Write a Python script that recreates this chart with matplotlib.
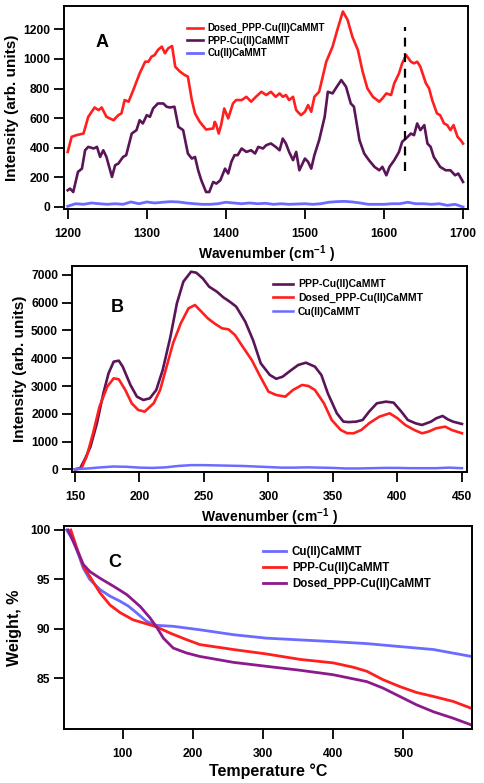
import matplotlib
matplotlib.use("Agg")
import matplotlib.pyplot as plt

plt.rcParams['font.family'] = ['Liberation Sans', 'DejaVu Sans']
plt.rcParams['font.weight'] = 'bold'
plt.rcParams['mathtext.fontset'] = 'custom'
plt.rcParams['mathtext.rm'] = 'Liberation Sans:bold'
plt.rcParams['mathtext.bf'] = 'Liberation Sans:bold'
plt.rcParams['mathtext.default'] = 'bf'

RED = '#ff1f1f'
DARK_PURPLE = '#5a1458'
BLUE = '#6b6bff'
PURPLE_C = '#8c1a8c'

# ---- Panel A data (Raman 1200-1700 cm-1) ----
a_red_x = [1200, 1205, 1211, 1220, 1226, 1234, 1239, 1243, 1249, 1258, 1264, 1268, 1272, 1277,
           1283, 1291, 1298, 1302, 1306, 1310, 1314, 1319, 1323, 1327, 1332, 1336, 1342, 1348,
           1352, 1357, 1361, 1367, 1375, 1384, 1386, 1388, 1391, 1394, 1398, 1403, 1409, 1413,
           1420, 1426, 1432, 1438, 1445, 1451, 1457, 1463, 1468, 1472, 1476, 1480, 1485, 1489,
           1495, 1500, 1504, 1508, 1512, 1518, 1523, 1527, 1535, 1541, 1548, 1554, 1560, 1567,
           1573, 1579, 1586, 1594, 1598, 1603, 1609, 1613, 1619, 1623, 1628, 1634, 1638, 1642,
           1646, 1653, 1657, 1661, 1667, 1671, 1676, 1680, 1684, 1688, 1693, 1697, 1700]
a_red_y = [372, 474, 485, 496, 609, 672, 654, 672, 609, 586, 620, 632, 722, 711,
           790, 902, 981, 981, 1015, 1026, 1060, 1083, 1038, 1071, 1087, 947, 914, 891,
           880, 722, 632, 575, 523, 530, 575, 553, 496, 553, 665, 598, 699, 722,
           722, 744, 711, 744, 778, 756, 778, 744, 767, 744, 756, 722, 744, 654,
           620, 643, 688, 643, 744, 778, 891, 981, 1083, 1196, 1320, 1263, 1150, 1060,
           914, 801, 744, 711, 733, 767, 756, 835, 902, 970, 1026, 981, 970, 981,
           947, 835, 801, 722, 632, 620, 564, 553, 519, 553, 474, 451, 428]

a_pur_x = [1200, 1203, 1207, 1213, 1218, 1222, 1226, 1233, 1237, 1241, 1245, 1249, 1256, 1260,
           1264, 1270, 1274, 1281, 1287, 1291, 1295, 1300, 1304, 1308, 1314, 1321, 1325, 1329,
           1335, 1340, 1346, 1352, 1357, 1361, 1365, 1369, 1375, 1379, 1384, 1388, 1393, 1399,
           1403, 1407, 1411, 1415, 1420, 1426, 1432, 1437, 1441, 1447, 1451, 1457, 1463, 1468,
           1472, 1476, 1480, 1485, 1489, 1493, 1500, 1504, 1508, 1512, 1518, 1525, 1529, 1535,
           1539, 1546, 1552, 1558, 1562, 1569, 1575, 1581, 1588, 1594, 1598, 1603, 1607, 1613,
           1619, 1623, 1630, 1634, 1638, 1642, 1646, 1651, 1655, 1659, 1663, 1667, 1671, 1678,
           1684, 1690, 1694, 1700]
a_pur_y = [113, 124, 101, 237, 259, 383, 406, 395, 406, 338, 383, 338, 203, 282,
           293, 338, 350, 496, 519, 586, 564, 620, 609, 665, 699, 699, 677, 672,
           677, 541, 519, 361, 327, 338, 248, 180, 101, 101, 169, 158, 180, 259,
           226, 305, 350, 350, 395, 372, 383, 361, 406, 395, 417, 429, 406, 383,
           462, 428, 372, 316, 372, 248, 327, 305, 259, 350, 451, 609, 778, 767,
           801, 857, 812, 699, 677, 451, 361, 316, 271, 248, 271, 214, 271, 316,
           372, 440, 474, 496, 485, 564, 519, 553, 428, 406, 338, 305, 271, 248,
           248, 214, 226, 169]

a_blue_x = [1200, 1210, 1220, 1230, 1240, 1250, 1260, 1270, 1280, 1290, 1300, 1310, 1320, 1330,
            1340, 1350, 1360, 1370, 1380, 1390, 1400, 1410, 1420, 1430, 1440, 1450, 1460, 1470,
            1480, 1490, 1500, 1510, 1520, 1530, 1540, 1550, 1560, 1570, 1580, 1590, 1600, 1610,
            1620, 1630, 1640, 1650, 1660, 1670, 1680, 1690, 1700]
a_blue_y = [5, 22, 18, 27, 22, 18, 22, 18, 34, 22, 34, 27, 32, 36,
            34, 27, 22, 18, 18, 22, 32, 27, 22, 27, 22, 25, 18, 22,
            18, 20, 22, 18, 22, 32, 36, 38, 34, 27, 18, 18, 18, 22,
            22, 32, 22, 22, 18, 22, 11, 18, 0]

dash_x = 1627
dash_y = [240, 1215]

# ---- Panel B data (Raman 150-450 cm-1) ----
b_pur_x = [150, 154, 158, 162, 167, 172, 176, 180, 184, 187, 193, 198, 203, 208, 213, 218,
           224, 229, 234, 240, 244, 249, 254, 260, 265, 270, 275, 282, 288, 294, 301, 306,
           311, 316, 323, 329, 336, 341, 346, 353, 358, 362, 368, 373, 378, 384, 391, 397,
           403, 408, 414, 419, 426, 430, 435, 439, 443, 450]
b_pur_y = [0, 36, 396, 816, 1657, 2737, 3457, 3877, 3913, 3697, 3037, 2617, 2497, 2557, 2857, 3577,
           4777, 5978, 6758, 7118, 7082, 6878, 6578, 6398, 6194, 6038, 5858, 5318, 4658, 3818, 3400, 3260,
           3337, 3517, 3757, 3841, 3697, 3397, 2737, 2017, 1720, 1700, 1717, 1777, 2077, 2377, 2437, 2401,
           2077, 1777, 1657, 1597, 1717, 1837, 1921, 1800, 1717, 1633]

b_red_x = [150, 155, 159, 164, 169, 175, 180, 184, 189, 194, 199, 204, 211, 216, 221, 226,
           232, 238, 243, 248, 253, 258, 264, 269, 274, 280, 287, 293, 300, 306, 313, 319,
           326, 331, 336, 343, 349, 356, 361, 366, 372, 378, 386, 394, 400, 406, 413, 419,
           424, 430, 437, 442, 450]
b_red_y = [0, 36, 456, 1297, 2257, 2977, 3277, 3241, 2857, 2377, 2137, 2077, 2377, 2857, 3697, 4538,
           5258, 5798, 5918, 5678, 5438, 5258, 5078, 5042, 4838, 4418, 3938, 3397, 2797, 2677, 2617, 2857,
           3037, 3001, 2857, 2377, 1777, 1417, 1300, 1297, 1417, 1657, 1897, 2017, 1837, 1597, 1417, 1297,
           1357, 1477, 1537, 1417, 1297]

b_blue_x = [150, 160, 170, 180, 190, 200, 210, 220, 230, 240, 250, 260, 270, 280, 290, 300,
            310, 320, 330, 340, 350, 360, 370, 380, 390, 400, 410, 420, 430, 440, 450]
b_blue_y = [0, 30, 70, 100, 90, 60, 50, 70, 120, 150, 150, 140, 130, 120, 100, 80,
            60, 60, 70, 60, 50, 30, 30, 40, 50, 50, 40, 40, 40, 60, 40]

# ---- Panel C data (TGA) ----
c_blue_x = [20, 30, 44, 53, 68, 82, 96, 108, 120, 134, 148, 172, 210, 258, 305, 400, 448, 495, 543, 597]
c_blue_y = [100, 98.9, 96.1, 95.0, 93.95, 93.3, 92.8, 92.3, 91.6, 90.75, 90.35, 90.25, 89.9, 89.4,
            89.05, 88.7, 88.5, 88.2, 87.9, 87.2]

c_red_x = [26, 34, 44, 53, 68, 82, 96, 115, 134, 148, 168, 191, 210, 258, 305, 353, 400, 429,
           448, 471, 495, 519, 543, 571, 597]
c_red_y = [100, 98.3, 96.3, 95.3, 93.6, 92.4, 91.65, 90.9, 90.5, 90.2, 89.55, 88.9, 88.4, 87.9,
           87.45, 86.9, 86.55, 86.1, 85.7, 84.85, 84.15, 83.55, 83.15, 82.65, 81.95]

c_pur_x = [22, 34, 44, 53, 68, 87, 106, 125, 139, 149, 158, 172, 191, 210, 258, 305, 353, 400,
           448, 471, 495, 519, 543, 571, 597]
c_pur_y = [100, 98.1, 96.5, 95.8, 95.1, 94.3, 93.45, 92.25, 91.1, 90.1, 89.05, 88.05, 87.55, 87.2,
           86.6, 86.2, 85.8, 85.35, 84.65, 84.0, 83.15, 82.3, 81.6, 80.95, 80.27]

fig = plt.figure(figsize=(4.84, 7.83), dpi=100)

def style(ax):
    for s in ax.spines.values():
        s.set_linewidth(1.4)
    ax.tick_params(direction='out', length=7, width=1.3, labelsize=8.7, pad=3)
    ax.tick_params(axis='x', pad=7)
    for lab in ax.get_xticklabels() + ax.get_yticklabels():
        lab.set_fontweight('bold')

# Panel A
axA = fig.add_axes([0.1322, 0.7331, 0.8348, 0.2592])
axA.plot(a_red_x, a_red_y, color=RED, lw=1.9, label='Dosed_PPP-Cu(II)CaMMT')
axA.plot(a_pur_x, a_pur_y, color=DARK_PURPLE, lw=1.9, label='PPP-Cu(II)CaMMT')
axA.plot(a_blue_x, a_blue_y, color=BLUE, lw=2.0, label='Cu(II)CaMMT')
axA.plot([dash_x, dash_x], dash_y, color='black', lw=1.6, ls=(0, (4, 3)))
axA.set_xlim(1195.3, 1706.3)
axA.set_ylim(-13.5, 1357)
axA.set_xticks([1200, 1300, 1400, 1500, 1600, 1700])
axA.set_yticks([0, 200, 400, 600, 800, 1000, 1200])
axA.set_xlabel('Wavenumber (cm$^{-1}$ )', fontsize=10, fontweight='bold', labelpad=2)
axA.set_ylabel('Intensity (arb. units)', fontsize=11, fontweight='bold', labelpad=3)
axA.text(0.095, 0.82, 'A', transform=axA.transAxes, fontsize=13, fontweight='bold',
         ha='center', va='center')
axA.legend(loc='upper left', bbox_to_anchor=(0.304, 0.915), frameon=False,
           handlelength=1.65, handletextpad=0.5, labelspacing=0.25, borderpad=0,
           borderaxespad=0, prop={'weight': 'bold', 'size': 7})
style(axA)

# Panel B
axB = fig.add_axes([0.1488, 0.3972, 0.8161, 0.2631])
axB.plot(b_pur_x, b_pur_y, color=DARK_PURPLE, lw=1.9, label='PPP-Cu(II)CaMMT')
axB.plot(b_red_x, b_red_y, color=RED, lw=1.9, label='Dosed_PPP-Cu(II)CaMMT')
axB.plot(b_blue_x, b_blue_y, color=BLUE, lw=1.8, label='Cu(II)CaMMT')
axB.set_xlim(147.7, 453.9)
axB.set_ylim(-97, 7324)
axB.set_xticks([150, 200, 250, 300, 350, 400, 450])
axB.set_yticks(range(0, 7001, 1000))
axB.set_xlabel('Wavenumber (cm$^{-1}$ )', fontsize=10, fontweight='bold', labelpad=2)
axB.set_ylabel('Intensity (arb. units)', fontsize=11, fontweight='bold', labelpad=3)
axB.text(0.115, 0.80, 'B', transform=axB.transAxes, fontsize=13, fontweight='bold',
         ha='center', va='center')
axB.legend(loc='upper left', bbox_to_anchor=(0.509, 0.935), frameon=False,
           handlelength=1.9, handletextpad=0.5, labelspacing=0.35, borderpad=0,
           borderaxespad=0, prop={'weight': 'bold', 'size': 7.5})
style(axB)

# Panel C
axC = fig.add_axes([0.1322, 0.069, 0.843, 0.2592])
axC.plot(c_blue_x, c_blue_y, color=BLUE, lw=2.0, label='Cu(II)CaMMT')
axC.plot(c_red_x, c_red_y, color=RED, lw=2.0, label='PPP-Cu(II)CaMMT')
axC.plot(c_pur_x, c_pur_y, color=PURPLE_C, lw=2.0, label='Dosed_PPP-Cu(II)CaMMT')
axC.set_xlim(16.3, 597.9)
axC.set_ylim(79.86, 100.4)
axC.set_xticks([100, 200, 300, 400, 500])
axC.set_yticks([85, 90, 95, 100])
axC.set_xlabel('Temperature \u00b0C', fontsize=11.5, fontweight='bold', labelpad=2)
axC.set_ylabel('Weight, %', fontsize=11.5, fontweight='bold', labelpad=6)
axC.text(0.125, 0.82, 'C', transform=axC.transAxes, fontsize=13, fontweight='bold',
         ha='center', va='center')
axC.legend(loc='upper left', bbox_to_anchor=(0.488, 0.9), frameon=False,
           handlelength=2.0, handletextpad=0.5, labelspacing=0.35, borderpad=0,
           borderaxespad=0, prop={'weight': 'bold', 'size': 8.3})
style(axC)

fig.savefig('out.png', dpi=100)
